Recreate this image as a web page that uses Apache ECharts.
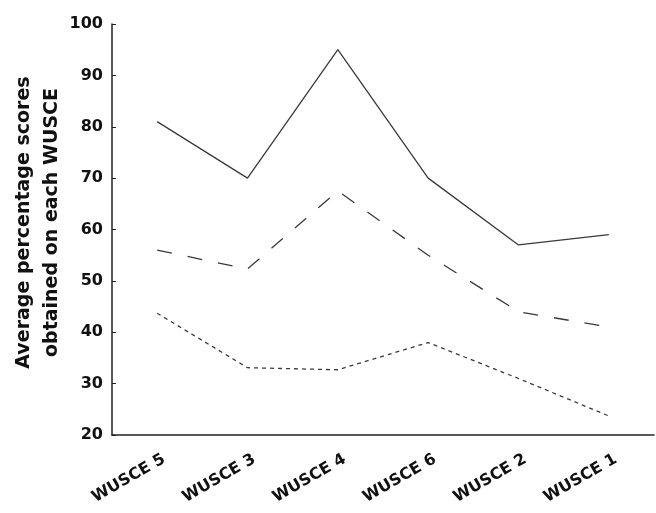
<!DOCTYPE html>
<html>
<head>
<meta charset="utf-8">
<script src="https://cdn.jsdelivr.net/npm/echarts@6/dist/echarts.min.js"></script>
<style>html,body{margin:0;padding:0;background:#fff}#c{width:656px;height:513px}</style>
</head>
<body>
<div id="c"></div>
<script>
var categories = ['WUSCE 5', 'WUSCE 3', 'WUSCE 4', 'WUSCE 6', 'WUSCE 2', 'WUSCE 1'];
var solidSeries = [81, 70, 95, 70, 57, 59];
var dashedSeries = [56, 52.3, 67.5, 55, 44, 41];
var dottedSeries = [43.7, 33.1, 32.7, 38, 31, 23.7];
var yTicks = [20, 30, 40, 50, 60, 70, 80, 90, 100];

var chart = echarts.init(document.getElementById('c'));
var FONT = '"DejaVu Sans"';
var lineColor = '#3a3a3a';
function mk(data, type) {
  return {
    type: 'line', data: data, symbol: 'none', silent: true,
    lineStyle: { color: lineColor, width: 1.3, type: type }
  };
}
chart.setOption({
  animation: false,
  grid: { left: 112, top: 24, right: 2, bottom: 78, containLabel: false, outerBoundsMode: 'none' },
  xAxis: {
    type: 'category', data: categories, boundaryGap: true,
    axisLine: { lineStyle: { color: '#222', width: 1.5 } },
    axisTick: { show: false },
    axisLabel: { rotate: 30, margin: 27, padding: [0, -8, 0, 0], color: '#111', fontFamily: FONT, fontWeight: 'bold', fontSize: 16 }
  },
  yAxis: {
    type: 'value', min: yTicks[0], max: yTicks[yTicks.length - 1], interval: 10,
    splitLine: { show: false },
    axisLine: { show: true, lineStyle: { color: '#222', width: 1.5 } },
    axisTick: { show: true, inside: true, length: 4, lineStyle: { color: '#222' } },
    axisLabel: { margin: 9, color: '#111', fontFamily: FONT, fontWeight: 'bold', fontSize: 16 },
    name: 'Average percentage scores\nobtained on each WUSCE',
    nameLocation: 'middle', nameGap: 46, nameRotate: 90, nameMoveOverlap: false,
    nameTextStyle: { color: '#111', fontFamily: FONT, fontWeight: 'bold', fontSize: 19, lineHeight: 28, align: 'center', padding: [0, 0, 0, 14] }
  },
  series: [mk(solidSeries, 'solid'), mk(dashedSeries, [15, 16]), mk(dottedSeries, [4, 4])]
});
</script>
</body>
</html>
